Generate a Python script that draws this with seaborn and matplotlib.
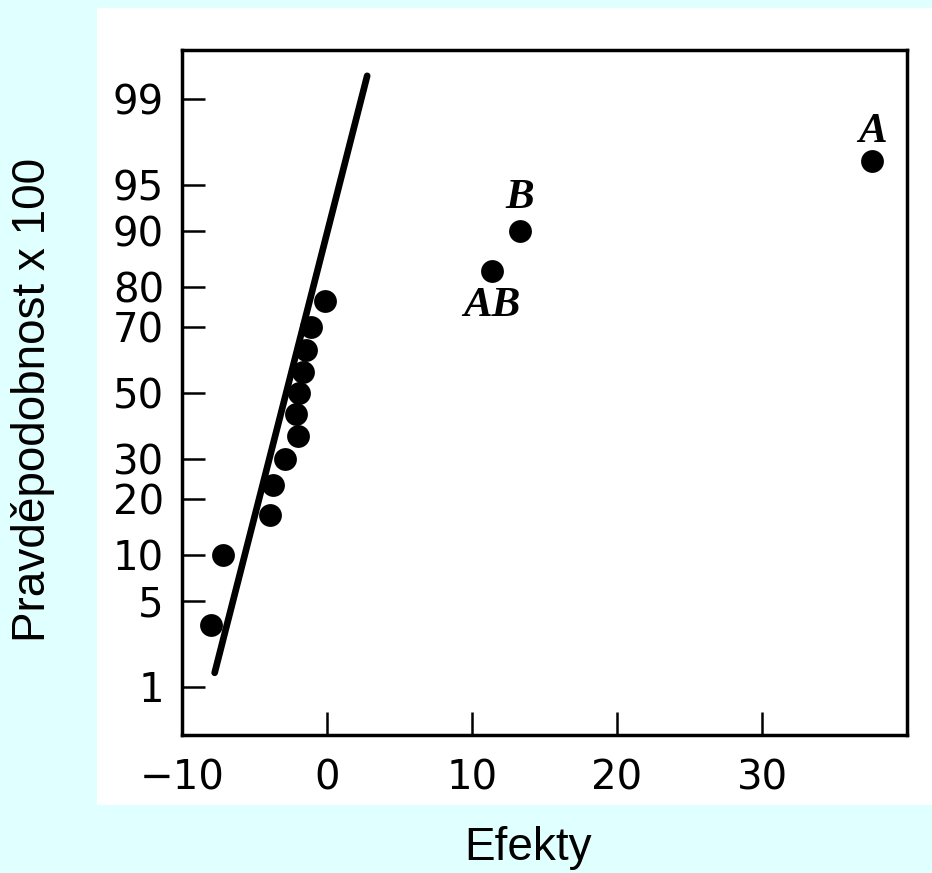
import numpy as np
import matplotlib
matplotlib.use('Agg')
import matplotlib.pyplot as plt
import seaborn as sns
from matplotlib.patches import Rectangle
from statistics import NormalDist

# data
effects = [-8.0, -7.2, -3.9, -3.7, -2.9, -2.0, -2.15, -1.9, -1.65, -1.45, -1.1, -0.15, 11.35, 13.3, 37.6]
probs = [3.3, 10.0, 16.7, 23.3, 30.0, 36.7, 43.3, 50.0, 56.7, 63.3, 70.0, 76.7, 83.3, 90.0, 96.7]
line_x = [-7.75, 2.77]
line_p = [1.34, 99.4]
labels = {'A': (37.6, 96.7), 'B': (13.3, 90.0), 'AB': (11.35, 83.3)}
label_offsets = {'A': (0, 21), 'B': (0, 24), 'AB': (0, -25)}
xticks = [-10, 0, 10, 20, 30]
yticks = [1, 5, 10, 20, 30, 50, 70, 80, 90, 95, 99]

sns.set_style('ticks')
plt.rcParams['font.family'] = ['DejaVu Sans']
plt.rcParams['text.color'] = 'black'
plt.rcParams['xtick.color'] = 'black'
plt.rcParams['ytick.color'] = 'black'

nd = NormalDist()
_fwd = np.vectorize(lambda v: nd.inv_cdf(v / 100.0), otypes=[float])
_inv = np.vectorize(lambda v: nd.cdf(v) * 100.0, otypes=[float])

def prob_fwd(p):
    p = np.clip(np.asarray(p, dtype=float), 1e-6, 100 - 1e-6)
    return _fwd(p)

def prob_inv(z):
    return _inv(np.asarray(z, dtype=float))

fig = plt.figure(figsize=(9.32, 8.73), dpi=100)
fig.patch.set_facecolor('#E0FFFF')
# white panel behind the scanned chart
panel = Rectangle((0.104, 0.078), 0.896, 0.913, transform=fig.transFigure,
                  facecolor='white', edgecolor='none', zorder=-10)
fig.add_artist(panel)

ax = fig.add_axes([0.1953, 0.1581, 0.7779, 0.7846])
ax.set_zorder(1)
ax.set_facecolor('white')
ax.set_yscale('function', functions=(prob_fwd, prob_inv))

sns.lineplot(x=line_x, y=line_p, color='black', linewidth=4.8, ax=ax, sort=False)
sns.scatterplot(x=effects, y=probs, color='black', s=270, linewidth=0, ax=ax, zorder=3)

for name, (xv, pv) in labels.items():
    ax.annotate(name, (xv, pv), xytext=label_offsets[name], textcoords='offset points',
                ha='center', va='center', fontsize=31, fontweight='bold', fontstyle='italic',
                family='Liberation Serif', color='black')

ax.set_xlim(-10, 40)
ax.set_ylim(0.34, 99.67)
ax.set_xticks(xticks)
ax.set_xticklabels(['\u221210' if t < 0 else str(t) for t in xticks])
ax.set_yticks(yticks)
ax.set_yticklabels([str(t) for t in yticks])
ax.yaxis.set_minor_locator(matplotlib.ticker.NullLocator())

ax.tick_params(axis='both', direction='in', length=16.5, width=1.8, color='black',
               labelcolor='black', labelsize=29)
ax.tick_params(axis='x', pad=17)
ax.tick_params(axis='y', pad=13)
for s in ax.spines.values():
    s.set_visible(True)
    s.set_linewidth(2.5)
    s.set_color('black')
ax.set_xlabel('')
ax.set_ylabel('')

fig.text(0.5665, 0.0286, 'Efekty', ha='center', va='center', fontsize=33,
         family='Liberation Sans', color='black')
fig.text(0.0354, 0.5418, 'Pravděpodobnost x 100', ha='center', va='center', rotation=90,
         fontsize=33, family='Liberation Sans', color='black')

fig.savefig('out.png', dpi=100, facecolor=fig.get_facecolor())
